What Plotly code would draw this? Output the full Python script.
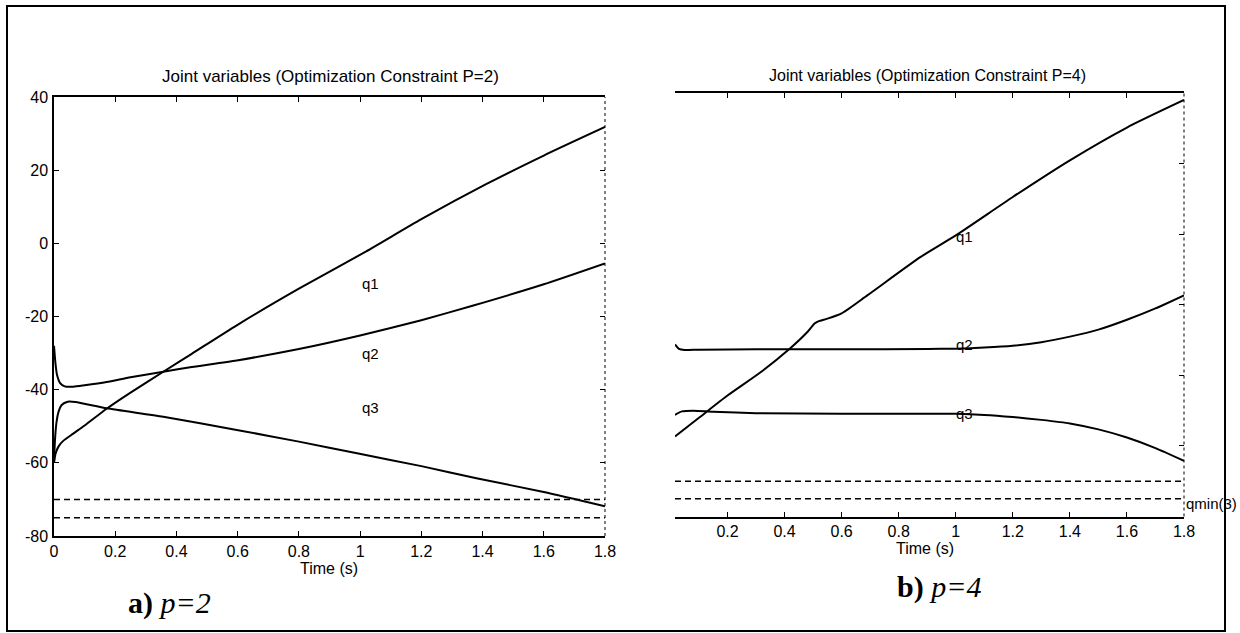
import plotly.graph_objects as go

# ---------------- data ----------------
# Panel a) p=2
t_a_q1 = [0, 0.005, 0.015, 0.03, 0.063, 0.1, 0.172, 0.25, 0.357, 0.45, 0.597, 0.8, 1.02, 1.2, 1.41, 1.6, 1.8]
q1_a = [-60, -57.5, -55.5, -54, -52, -49.8, -45.2, -40.8, -35.1, -30.2, -22.4, -12.4, -2.2, 6.6, 16.1, 24.0, 31.8]

t_a_q2 = [0, 0.005, 0.01, 0.02, 0.035, 0.063, 0.1, 0.172, 0.25, 0.357, 0.45, 0.597, 0.8, 1.0, 1.2, 1.37, 1.6, 1.8]
q2_a = [-28, -33, -36, -38.2, -39.1, -39.2, -38.8, -37.9, -36.6, -35.1, -33.8, -32.0, -28.9, -25.2, -21.0, -17.0, -11.2, -5.5]

t_a_q3 = [0, 0.003, 0.008, 0.015, 0.025, 0.045, 0.07, 0.172, 0.357, 0.597, 0.8, 0.99, 1.2, 1.38, 1.6, 1.8]
q3_a = [-60, -54, -49, -46, -44.2, -43.3, -43.4, -45.1, -47.4, -51.0, -54.2, -57.4, -60.9, -64.2, -68.0, -71.9]

# Panel b) p=4
t_b_q1 = [0.016, 0.1, 0.2, 0.316, 0.42, 0.48, 0.505, 0.52, 0.55, 0.6, 0.69, 0.877, 1.0, 1.2, 1.4, 1.6, 1.8]
q1_b = [-57.3, -52.0, -45.7, -39.1, -32.3, -27.7, -25.3, -24.6, -23.9, -22.4, -17.3, -6.4, -0.3, 10.6, 21.0, 30.3, 38.1]

t_b_q2 = [0.016, 0.03, 0.05, 0.1, 0.3, 0.6, 0.9, 1.0, 1.1, 1.2, 1.3, 1.4, 1.5, 1.6, 1.7, 1.8]
q2_b = [-31.2, -32.5, -32.8, -32.7, -32.6, -32.6, -32.5, -32.4, -32.1, -31.6, -30.6, -29.0, -27.0, -24.2, -21.0, -17.3]

t_b_q3 = [0.016, 0.04, 0.08, 0.15, 0.3, 0.6, 1.0, 1.1, 1.2, 1.3, 1.4, 1.5, 1.6, 1.7, 1.8]
q3_b = [-51.2, -50.2, -50.0, -50.3, -50.7, -50.9, -50.9, -51.2, -51.8, -52.6, -53.6, -55.3, -57.6, -60.6, -64.2]

# joint limits (dashed)
limit_t_a = [0, 1.8]
limit_t_b = [0.016, 1.8]
limits = [-70, -75]

x_ticks_a = [0, 0.2, 0.4, 0.6, 0.8, 1, 1.2, 1.4, 1.6, 1.8]
x_ticks_b = [0.2, 0.4, 0.6, 0.8, 1, 1.2, 1.4, 1.6, 1.8]
x_tick_text_a = ["0", "0.2", "0.4", "0.6", "0.8", "1", "1.2", "1.4", "1.6", "1.8"]
x_tick_text_b = ["0.2", "0.4", "0.6", "0.8", "1", "1.2", "1.4", "1.6", "1.8"]
y_ticks = [-80, -60, -40, -20, 0, 20, 40]
y_tick_text = ["-80", "-60", "-40", "-20", "0", "20", "40"]

title_a = "Joint variables (Optimization Constraint P=2)"
title_b = "Joint variables (Optimization Constraint P=4)"

# ---------------- figure ----------------
W, H = 1240, 633
FONT = "Liberation Sans, Arial, sans-serif"
line = dict(color="black", width=2, shape="spline", smoothing=0.6)
dash = dict(color="black", width=1.5, dash="6px,4px")

fig = go.Figure()

for t, q in [(t_a_q1, q1_a), (t_a_q2, q2_a), (t_a_q3, q3_a)]:
    fig.add_trace(go.Scatter(x=t, y=q, mode="lines", line=line, xaxis="x", yaxis="y", showlegend=False, hoverinfo="skip"))
for lv in limits:
    fig.add_trace(go.Scatter(x=limit_t_a, y=[lv, lv], mode="lines", line=dash, xaxis="x", yaxis="y3", showlegend=False, hoverinfo="skip"))

for t, q in [(t_b_q1, q1_b), (t_b_q2, q2_b), (t_b_q3, q3_b)]:
    fig.add_trace(go.Scatter(x=t, y=q, mode="lines", line=line, xaxis="x2", yaxis="y2", showlegend=False, hoverinfo="skip"))
for lv in limits:
    fig.add_trace(go.Scatter(x=limit_t_b, y=[lv, lv], mode="lines", line=dash, xaxis="x2", yaxis="y2", showlegend=False, hoverinfo="skip"))

tickfont = dict(family=FONT, size=16, color="black")
dom_ya = [1 - 536 / H, 1 - 97 / H]
dom_yb = [1 - 516.5 / H, 1 - 93.3 / H]

common = dict(ticks="inside", ticklen=5, tickcolor="black", showgrid=False, zeroline=False, automargin=False)

fig.update_layout(
    width=W, height=H,
    margin=dict(l=0, r=0, t=0, b=0, pad=0, autoexpand=False),
    paper_bgcolor="white", plot_bgcolor="white",
    xaxis=dict(domain=[54 / W, 605 / W], range=[0, 1.8], tickvals=x_ticks_a, ticktext=x_tick_text_a,
               showline=True, mirror="ticks", linecolor="black", linewidth=1.5,
               tickfont=tickfont, anchor="y", ticklabelstandoff=0, **common),
    yaxis=dict(domain=dom_ya, range=[-80, 40], tickvals=y_ticks, ticktext=y_tick_text,
               showline=True, mirror=False, linecolor="black", linewidth=1.5,
               tickfont=tickfont, anchor="x", ticklabelstandoff=1, **common),
    yaxis3=dict(domain=dom_ya, range=[-80, 40], tickvals=y_ticks, overlaying="y", side="right",
                showline=False, showticklabels=False, anchor="x", **common),
    xaxis2=dict(domain=[675 / W, 1184 / W], range=[0.016, 1.8], tickvals=x_ticks_b, ticktext=x_tick_text_b,
                showline=True, mirror="ticks", linecolor="black", linewidth=1.5,
                tickfont=tickfont, anchor="y2", ticklabelstandoff=0, **common),
    yaxis2=dict(domain=dom_yb, range=[-80, 40], tickvals=y_ticks, side="right",
                showline=False, showticklabels=False, anchor="x2", **common),
)

# dotted right borders
fig.add_shape(type="line", xref="x domain", yref="y domain", x0=1, x1=1, y0=0, y1=1,
              line=dict(color="black", width=1, dash="dot"))
fig.add_shape(type="line", xref="x2 domain", yref="y2 domain", x0=1, x1=1, y0=0, y1=1,
              line=dict(color="black", width=1, dash="dot"))
# outer frame
fig.add_shape(type="rect", xref="paper", yref="paper", x0=7 / W, x1=1225 / W, y0=1 - 631 / H, y1=1 - 6 / H,
              line=dict(color="black", width=2))

ann_font = dict(family=FONT, size=15, color="black")
serif = dict(family="Liberation Serif, Times New Roman, serif", size=30, color="black")
anns = [
    dict(x=331 / W, y=1 - 76.7 / H, xref="paper", yref="paper", text=title_a, font=dict(family=FONT, size=17, color="black")),
    dict(x=927 / W, y=1 - 75.5 / H, xref="paper", yref="paper", text=title_b, font=dict(family=FONT, size=16, color="black")),
    dict(x=329 / W, y=1 - 568 / H, xref="paper", yref="paper", text="Time (s)", font=dict(family=FONT, size=16, color="black")),
    dict(x=925 / W, y=1 - 548 / H, xref="paper", yref="paper", text="Time (s)", font=dict(family=FONT, size=16, color="black")),
    dict(x=1.0, y=-11, xref="x", yref="y", text="q1", font=ann_font, xanchor="left"),
    dict(x=1.0, y=-30, xref="x", yref="y", text="q2", font=ann_font, xanchor="left"),
    dict(x=1.0, y=-45, xref="x", yref="y", text="q3", font=ann_font, xanchor="left"),
    dict(x=0.995, y=-0.5, xref="x2", yref="y2", text="q1", font=ann_font, xanchor="left"),
    dict(x=0.995, y=-31.2, xref="x2", yref="y2", text="q2", font=ann_font, xanchor="left"),
    dict(x=0.995, y=-50.8, xref="x2", yref="y2", text="q3", font=ann_font, xanchor="left"),
    dict(x=1.8, y=-76.4, xref="x2", yref="y2", text="qmin(3)", font=ann_font, xanchor="left"),
    dict(x=126 / W, y=1 - 603 / H, xref="paper", yref="paper", xanchor="left",
         text="<b>a)</b> <i>p=2</i>", font=serif),
    dict(x=895 / W, y=1 - 587 / H, xref="paper", yref="paper", xanchor="left",
         text="<b>b)</b> <i>p=4</i>", font=serif),
]
for a in anns:
    a.setdefault("showarrow", False)
    a.setdefault("xanchor", "center")
    a.setdefault("yanchor", "middle")
    fig.add_annotation(**a)

fig.write_html("out.html")
